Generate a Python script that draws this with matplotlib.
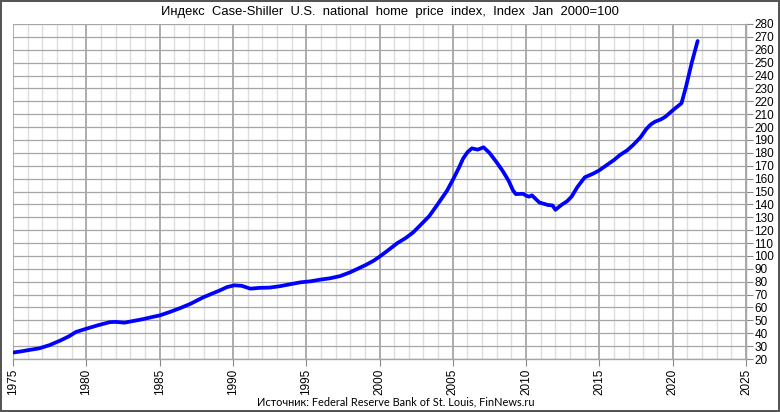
#!/usr/bin/env python3
import numpy as np

import matplotlib
matplotlib.use("Agg")
import matplotlib.pyplot as plt
from matplotlib.ticker import MultipleLocator

# Case-Shiller national index (fractional year, index)
years = [
    1975.0, 1975.5, 1976.0, 1976.8, 1977.5, 1978.2, 1978.8, 1979.3, 1980.0, 1980.8,
    1981.6, 1982.0, 1982.6, 1983.2, 1983.9, 1984.5, 1985.0, 1985.7, 1986.4, 1987.1,
    1988.0, 1989.1, 1989.6, 1990.1, 1990.6, 1991.2, 1991.8, 1992.5, 1993.2, 1993.9,
    1994.6, 1995.3, 1995.9, 1996.6, 1997.3, 1998.0, 1998.6, 1999.1, 1999.6, 2000.0,
    2000.6, 2001.2, 2001.8, 2002.3, 2002.8, 2003.4, 2003.9, 2004.6, 2005.0, 2005.4,
    2005.7, 2006.0, 2006.3, 2006.7, 2007.1, 2007.5, 2008.0, 2008.4, 2008.8, 2009.1,
    2009.3, 2009.8, 2010.0, 2010.2, 2010.4, 2010.9, 2011.5, 2011.8, 2012.0, 2012.4,
    2012.8, 2013.1, 2013.5, 2014.0, 2014.6, 2015.0, 2015.5, 2016.0, 2016.4, 2016.9,
    2017.3, 2017.8, 2018.2, 2018.5, 2018.8, 2019.2, 2019.5, 2020.0, 2020.6, 2020.9,
    2021.3, 2021.7,
]
index = [
    25.0, 25.8, 26.8, 28.3, 30.8, 34.2, 37.5, 41.0, 43.5, 46.2,
    48.6, 48.8, 48.2, 49.5, 51.0, 52.6, 53.8, 56.5, 59.5, 62.8,
    68.0, 73.2, 75.8, 77.2, 76.8, 74.6, 75.2, 75.4, 76.5, 78.0,
    79.5, 80.3, 81.5, 82.6, 84.3, 87.3, 90.5, 93.2, 96.3, 99.4,
    104.5, 109.8, 114.0, 118.3, 124.0, 131.0, 139.0, 150.5, 159.0, 168.0,
    175.5, 180.5, 183.5, 182.5, 184.3, 180.0, 172.5, 166.0, 158.5, 151.0,
    148.0, 148.2, 146.8, 146.0, 147.0, 141.5, 139.5, 139.2, 135.8, 139.5,
    142.5, 146.0, 153.5, 161.0, 164.0, 166.5, 170.5, 174.5, 178.3, 182.0,
    186.1, 192.0, 198.5, 202.0, 204.2, 206.0, 208.0, 213.0, 218.5, 231.0,
    250.0, 266.8,
]

TITLE = "Индекс  Case-Shiller  U.S.  national  home  price  index,  Index  Jan  2000=100"
SOURCE = "Источник: Federal Reserve Bank of St. Louis, FinNews.ru"


def main():
    plt.rcParams["font.family"] = ["Liberation Sans", "DejaVu Sans"]

    fig = plt.figure(figsize=(7.8, 4.12), dpi=100, edgecolor="#555555", linewidth=1.5)
    ax = fig.add_axes([13 / 780, 1 - 359 / 412, 733 / 780, 335 / 412])

    ax.set_xlim(1975, 2025)
    ax.set_ylim(20, 280)

    ax.xaxis.set_major_locator(MultipleLocator(5))
    ax.xaxis.set_minor_locator(MultipleLocator(1))
    ax.yaxis.set_major_locator(MultipleLocator(10))

    ax.grid(which="minor", axis="x", color="#dddddd", linewidth=1.0)
    ax.grid(which="major", axis="x", color="#a6a6a6", linewidth=1.3)
    ax.grid(which="major", axis="y", color="#a6a6a6", linewidth=0.9)
    ax.set_axisbelow(True)

    for side in ["top", "left"]:
        ax.spines[side].set_visible(False)
    for side in ["bottom", "right"]:
        ax.spines[side].set_color("#a6a6a6")
        ax.spines[side].set_linewidth(1.0)

    ax.yaxis.tick_right()
    ax.tick_params(axis="y", which="major", length=5, color="#888888", labelsize=8.5, pad=1)
    ax.tick_params(axis="x", which="major", length=5, color="#888888", labelsize=8.5,
                   labelrotation=90, pad=2)
    ax.tick_params(axis="x", which="minor", length=0)

    ax.plot(years, index, color="#0000ff", linewidth=2.7, solid_capstyle="round",
            solid_joinstyle="round", zorder=3)

    fig.text(0.5, 1 - 12 / 412, TITLE, ha="center", va="center", fontsize=9.4)
    fig.text(396 / 780, 1 - 402 / 412, SOURCE, ha="center", va="center", fontsize=7.9,
             family=["Lato", "DejaVu Sans"])

    fig.savefig("out.png", dpi=100, edgecolor=fig.get_edgecolor())
    plt.close(fig)


if __name__ == "__main__":
    main()
